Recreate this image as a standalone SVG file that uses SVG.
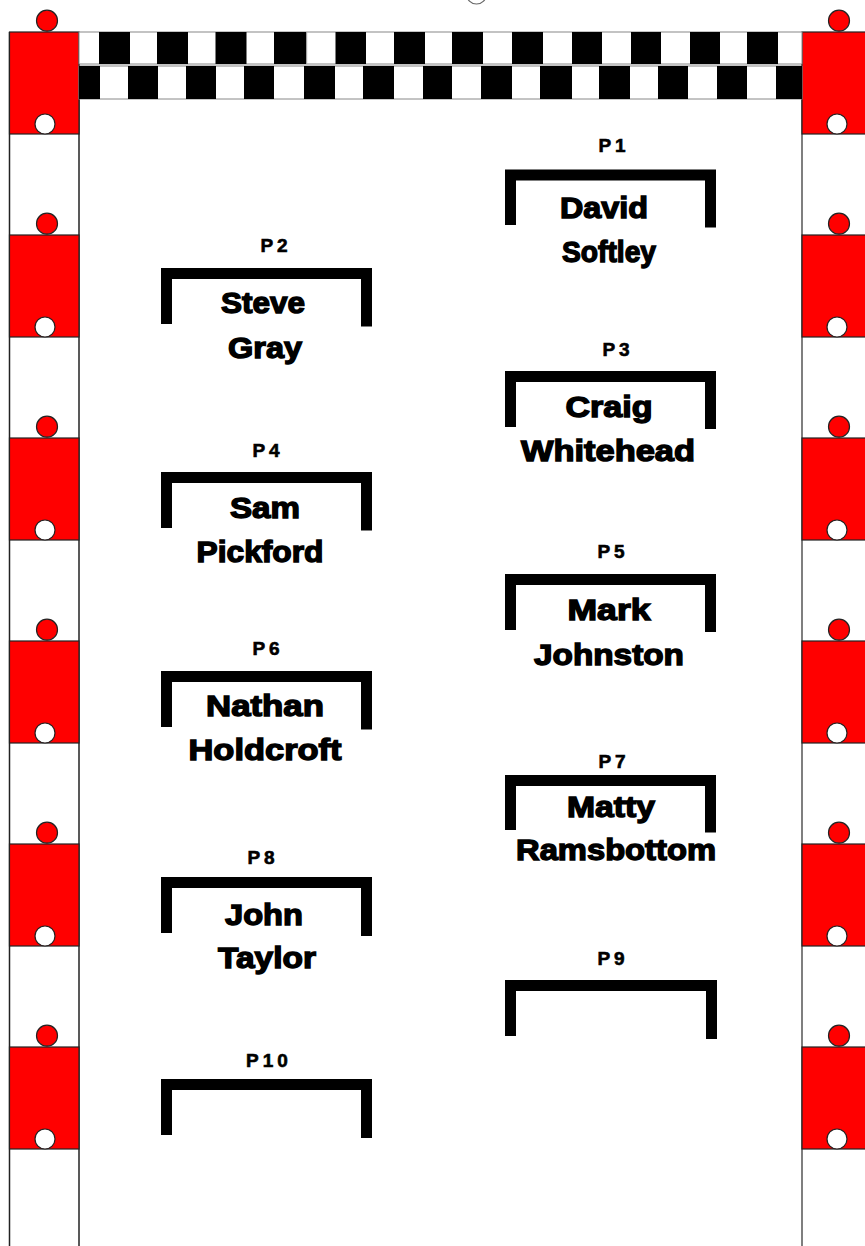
<svg xmlns="http://www.w3.org/2000/svg" width="865" height="1246" viewBox="0 0 865 1246">
<defs>
<style>
.red{fill:#ff0000;stroke:#222;stroke-width:1.2}
.wc{fill:#fff;stroke:#222;stroke-width:1.2}
.rc{fill:#ff0000;stroke:#222;stroke-width:1.2}
.blk{fill:#000}
.br{fill:none;stroke:#000;stroke-width:11;stroke-linejoin:miter;stroke-linecap:butt}
.lbl{font-family:"Liberation Sans",Arial,sans-serif;font-weight:bold;font-size:19px;fill:#000;stroke:#000;stroke-width:0.6;letter-spacing:4px;text-anchor:middle}
.nm{font-family:"Liberation Sans",Arial,sans-serif;font-weight:bold;font-size:30px;fill:#000;stroke:#000;stroke-width:1.4;text-anchor:middle}
</style>
<g id="seg">
<rect class="red" x="9.5" y="32" width="69.5" height="102"/>
<circle class="rc" cx="47" cy="20.7" r="10.5"/>
<circle class="wc" cx="45" cy="124" r="10"/>
</g>
<g id="segR">
<rect class="red" x="802" y="32" width="70" height="102"/>
<circle class="rc" cx="839" cy="20.7" r="10.5"/>
<circle class="wc" cx="837" cy="124" r="10"/>
</g>
</defs>
<rect width="865" height="1246" fill="#fff"/>
<circle cx="476.5" cy="-6" r="10" fill="#fff" stroke="#666" stroke-width="1.2"/>
<g id="left-strip">
<line x1="9.5" y1="32" x2="9.5" y2="1246" stroke="#222" stroke-width="1.5"/>
<line x1="79" y1="32" x2="79" y2="1246" stroke="#222" stroke-width="1.5"/>
<use href="#seg"/>
<use href="#seg" y="203"/>
<use href="#seg" y="406"/>
<use href="#seg" y="609"/>
<use href="#seg" y="812"/>
<use href="#seg" y="1015"/>
</g>
<g id="right-strip">
<line x1="802" y1="32" x2="802" y2="1246" stroke="#555" stroke-width="1.5"/>
<use href="#segR"/>
<use href="#segR" y="203"/>
<use href="#segR" y="406"/>
<use href="#segR" y="609"/>
<use href="#segR" y="812"/>
<use href="#segR" y="1015"/>
</g>
<g id="flag">
<rect x="79" y="32" width="723" height="32" fill="#fff" stroke="#888" stroke-width="1"/>
<rect x="79" y="66" width="723" height="33" fill="#fff" stroke="#888" stroke-width="1"/>
<rect class="blk" x="99" y="32" width="31" height="32"/>
<rect class="blk" x="157" y="32" width="31" height="32"/>
<rect class="blk" x="215.5" y="32" width="31" height="32"/>
<rect class="blk" x="274" y="32" width="32.5" height="32"/>
<rect class="blk" x="335.5" y="32" width="30.5" height="32"/>
<rect class="blk" x="394" y="32" width="31" height="32"/>
<rect class="blk" x="452" y="32" width="31" height="32"/>
<rect class="blk" x="512" y="32" width="31" height="32"/>
<rect class="blk" x="572" y="32" width="30" height="32"/>
<rect class="blk" x="631" y="32" width="30" height="32"/>
<rect class="blk" x="690" y="32" width="30" height="32"/>
<rect class="blk" x="747" y="32" width="31" height="32"/>
<rect class="blk" x="79" y="66" width="21" height="33"/>
<rect class="blk" x="128" y="66" width="30" height="33"/>
<rect class="blk" x="186" y="66" width="30" height="33"/>
<rect class="blk" x="244" y="66" width="30" height="33"/>
<rect class="blk" x="304" y="66" width="31" height="33"/>
<rect class="blk" x="363" y="66" width="31" height="33"/>
<rect class="blk" x="423" y="66" width="29" height="33"/>
<rect class="blk" x="481" y="66" width="31" height="33"/>
<rect class="blk" x="540" y="66" width="32" height="33"/>
<rect class="blk" x="599" y="66" width="31" height="33"/>
<rect class="blk" x="658" y="66" width="30" height="33"/>
<rect class="blk" x="717" y="66" width="30" height="33"/>
<rect class="blk" x="776" y="66" width="26" height="33"/>
<line x1="306.7" y1="32" x2="306.7" y2="64" stroke="#aaa" stroke-width="1"/>
</g>
<g id="P1">
<text class="lbl" x="614" y="152">P1</text>
<path class="br" d="M510.5,225 V175 H710.5 V227.5"/>
<text class="nm" x="604" y="218" textLength="88" lengthAdjust="spacingAndGlyphs">David</text>
<text class="nm" x="609" y="262" textLength="94" lengthAdjust="spacingAndGlyphs">Softley</text>
</g>
<g id="P2">
<text class="lbl" x="276" y="252">P2</text>
<path class="br" d="M166.5,324 V273.5 H366.5 V326.5"/>
<text class="nm" x="263" y="313" textLength="84" lengthAdjust="spacingAndGlyphs">Steve</text>
<text class="nm" x="265" y="358" textLength="74" lengthAdjust="spacingAndGlyphs">Gray</text>
</g>
<g id="P3">
<text class="lbl" x="618" y="356">P3</text>
<path class="br" d="M510.5,427 V376.5 H710.5 V429"/>
<text class="nm" x="609" y="417" textLength="87" lengthAdjust="spacingAndGlyphs">Craig</text>
<text class="nm" x="608" y="461" textLength="174" lengthAdjust="spacingAndGlyphs">Whitehead</text>
</g>
<g id="P4">
<text class="lbl" x="268" y="457">P4</text>
<path class="br" d="M166.5,528 V477.5 H366.5 V530.5"/>
<text class="nm" x="265" y="518" textLength="70" lengthAdjust="spacingAndGlyphs">Sam</text>
<text class="nm" x="260" y="562" textLength="127" lengthAdjust="spacingAndGlyphs">Pickford</text>
</g>
<g id="P5">
<text class="lbl" x="613" y="558">P5</text>
<path class="br" d="M510.5,630 V579.5 H710.5 V632"/>
<text class="nm" x="609" y="620" textLength="83" lengthAdjust="spacingAndGlyphs">Mark</text>
<text class="nm" x="609" y="665" textLength="150" lengthAdjust="spacingAndGlyphs">Johnston</text>
</g>
<g id="P6">
<text class="lbl" x="268" y="655">P6</text>
<path class="br" d="M166.5,727 V676.5 H366.5 V729.5"/>
<text class="nm" x="265" y="716" textLength="118" lengthAdjust="spacingAndGlyphs">Nathan</text>
<text class="nm" x="265" y="760" textLength="153" lengthAdjust="spacingAndGlyphs">Holdcroft</text>
</g>
<g id="P7">
<text class="lbl" x="614" y="768">P7</text>
<path class="br" d="M510.5,830 V780.5 H710.5 V832.5"/>
<text class="nm" x="611" y="817" textLength="88" lengthAdjust="spacingAndGlyphs">Matty</text>
<text class="nm" x="616" y="860" textLength="200" lengthAdjust="spacingAndGlyphs">Ramsbottom</text>
</g>
<g id="P8">
<text class="lbl" x="263" y="864">P8</text>
<path class="br" d="M166.5,933 V882.5 H366.5 V936"/>
<text class="nm" x="264" y="925" textLength="78" lengthAdjust="spacingAndGlyphs">John</text>
<text class="nm" x="267" y="968" textLength="98" lengthAdjust="spacingAndGlyphs">Taylor</text>
</g>
<g id="P9">
<text class="lbl" x="613" y="965">P9</text>
<path class="br" d="M510.5,1036 V985.5 H711.5 V1039"/>
</g>
<g id="P10">
<text class="lbl" x="269" y="1067">P10</text>
<path class="br" d="M166.5,1135 V1084.5 H366.5 V1138"/>
</g>
</svg>
